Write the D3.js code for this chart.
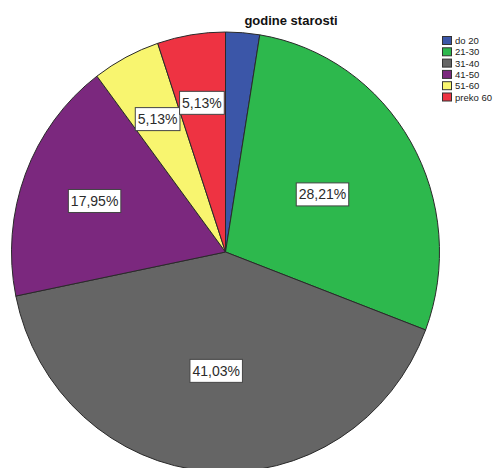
<!DOCTYPE html>
<html>
<head>
<meta charset="utf-8">
<script src="https://cdn.jsdelivr.net/npm/d3@7"></script>
<style>
  html, body { margin: 0; padding: 0; background: #fff; }
  svg { display: block; }
</style>
</head>
<body>
<svg id="chart" width="494" height="468"></svg>
<script>
// Age groups and their share of respondents (%)
const categories = ["do 20", "21-30", "31-40", "41-50", "51-60", "preko 60"];
const percents = [2.56, 28.21, 41.03, 17.95, 5.13, 5.13];
const showLabel = [false, true, true, true, true, true];
const colors = ["#3b56a8", "#2db84d", "#656565", "#7b287e", "#f8f56f", "#ee3342"];
const title = "godine starosti";

// Distance from the centre at which each percentage box sits
const labelRadius = [0, 112, 116, 140, 146, 147];

const svg = d3.select("#chart");
const cx = 225.5, cy = 252, r = 214, sy = 1.028;

const pie = d3.pie().value(d => d).sort(null);
const arcs = pie(percents);
const arc = d3.arc().innerRadius(0).outerRadius(r);

const g = svg.append("g")
  .attr("transform", `translate(${cx},${cy}) scale(1,${sy})`);

g.selectAll("path.slice")
  .data(arcs)
  .join("path")
  .attr("class", "slice")
  .attr("d", arc)
  .attr("fill", (d, i) => colors[i])
  .attr("stroke", "#2a2a2a")
  .attr("stroke-width", 1)
  .attr("vector-effect", "non-scaling-stroke");

// Percentage labels in white boxes
const fmt = v => v.toFixed(2).replace(".", ",") + "%";
const labels = svg.append("g");
arcs.forEach((d, i) => {
  if (!showLabel[i]) return;
  const a = (d.startAngle + d.endAngle) / 2;
  const x = cx + labelRadius[i] * Math.sin(a);
  const y = cy - labelRadius[i] * Math.cos(a) * sy;
  const lg = labels.append("g").attr("transform", `translate(${x},${y})`);
  const rect = lg.append("rect");
  const t = lg.append("text")
    .attr("text-anchor", "middle")
    .attr("dominant-baseline", "central")
    .attr("font-family", "Liberation Sans, Arial, sans-serif")
    .attr("font-size", 14)
    .attr("fill", "#2b2b2b")
    .text(fmt(percents[i]));
  const bb = t.node().getBBox();
  rect.attr("x", bb.x - 2.5).attr("y", -11.5)
    .attr("width", bb.width + 5).attr("height", 23)
    .attr("fill", "#fff")
    .attr("stroke", "#444")
    .attr("stroke-width", 1);
});

// Title
svg.append("text")
  .attr("x", 291).attr("y", 25)
  .attr("text-anchor", "middle")
  .attr("font-family", "Liberation Sans, Arial, sans-serif")
  .attr("font-weight", "bold")
  .attr("font-size", 13)
  .attr("fill", "#111")
  .text(title);

// Legend
const legend = svg.append("g").attr("transform", "translate(442,36)");
const rowH = 11.3;
const items = legend.selectAll("g.item")
  .data(categories)
  .join("g")
  .attr("class", "item")
  .attr("transform", (d, i) => `translate(0,${i * rowH})`);
items.append("rect")
  .attr("x", 0.5).attr("y", 0.5)
  .attr("width", 9).attr("height", 8)
  .attr("fill", (d, i) => colors[i])
  .attr("stroke", "#333")
  .attr("stroke-width", 1);
items.append("text")
  .attr("x", 13).attr("y", 4.5)
  .attr("dominant-baseline", "central")
  .attr("font-family", "Liberation Sans, Arial, sans-serif")
  .attr("font-size", 9.5)
  .attr("fill", "#222")
  .text(d => d);
</script>
</body>
</html>
